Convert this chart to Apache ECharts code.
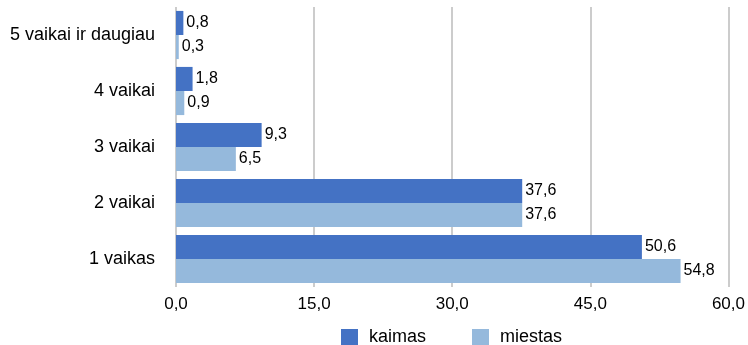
<!DOCTYPE html>
<html><head><meta charset="utf-8">
<script src="https://cdn.jsdelivr.net/npm/echarts@6/dist/echarts.min.js"></script>
<style>html,body{margin:0;padding:0;background:#fff}#c{width:748px;height:345px}</style>
</head><body><div id="c"></div>
<script>
const categories = ['1 vaikas', '2 vaikai', '3 vaikai', '4 vaikai', '5 vaikai ir daugiau'];
const kaimas = [50.6, 37.6, 9.3, 1.8, 0.8];
const miestas = [54.8, 37.6, 6.5, 0.9, 0.3];
const seriesNames = ['kaimas', 'miestas'];
const fmt = v => v.toFixed(1).replace('.', ',');
const font = 'Liberation Sans, Arial, sans-serif';
const chart = echarts.init(document.getElementById('c'));
chart.setOption({
  animation: false,
  grid: { left: 176, right: 17, top: 7, bottom: 58, containLabel: false },
  legend: {
    top: 328, left: 341, padding: 0, itemWidth: 17, itemHeight: 16, itemGap: 46,
    icon: 'rect',
    textStyle: { fontFamily: font, fontSize: 18, color: '#000', padding: [0, 0, 0, 6] },
    data: seriesNames
  },
  xAxis: {
    type: 'value', min: 0, max: 60, interval: 15,
    axisLine: { show: false }, axisTick: { show: false },
    splitLine: { lineStyle: { color: '#cccccc', width: 2 } },
    axisLabel: { formatter: v => fmt(v), fontFamily: font, fontSize: 17, color: '#000', margin: 9 }
  },
  yAxis: {
    type: 'category', data: categories,
    axisLine: { show: false }, axisTick: { show: false },
    axisLabel: { fontFamily: font, fontSize: 18, color: '#000', margin: 21 }
  },
  series: [
    { name: seriesNames[0], type: 'bar', data: kaimas, itemStyle: { color: '#4472C4' },
      barGap: '0%', barCategoryGap: '14%',
      label: { show: true, position: 'right', distance: 3, formatter: p => fmt(p.value), fontFamily: font, fontSize: 16, color: '#000' } },
    { name: seriesNames[1], type: 'bar', data: miestas, itemStyle: { color: '#95B9DC' },
      barGap: '0%', barCategoryGap: '14%',
      label: { show: true, position: 'right', distance: 3, formatter: p => fmt(p.value), fontFamily: font, fontSize: 16, color: '#000' } }
  ]
});
</script></body></html>
